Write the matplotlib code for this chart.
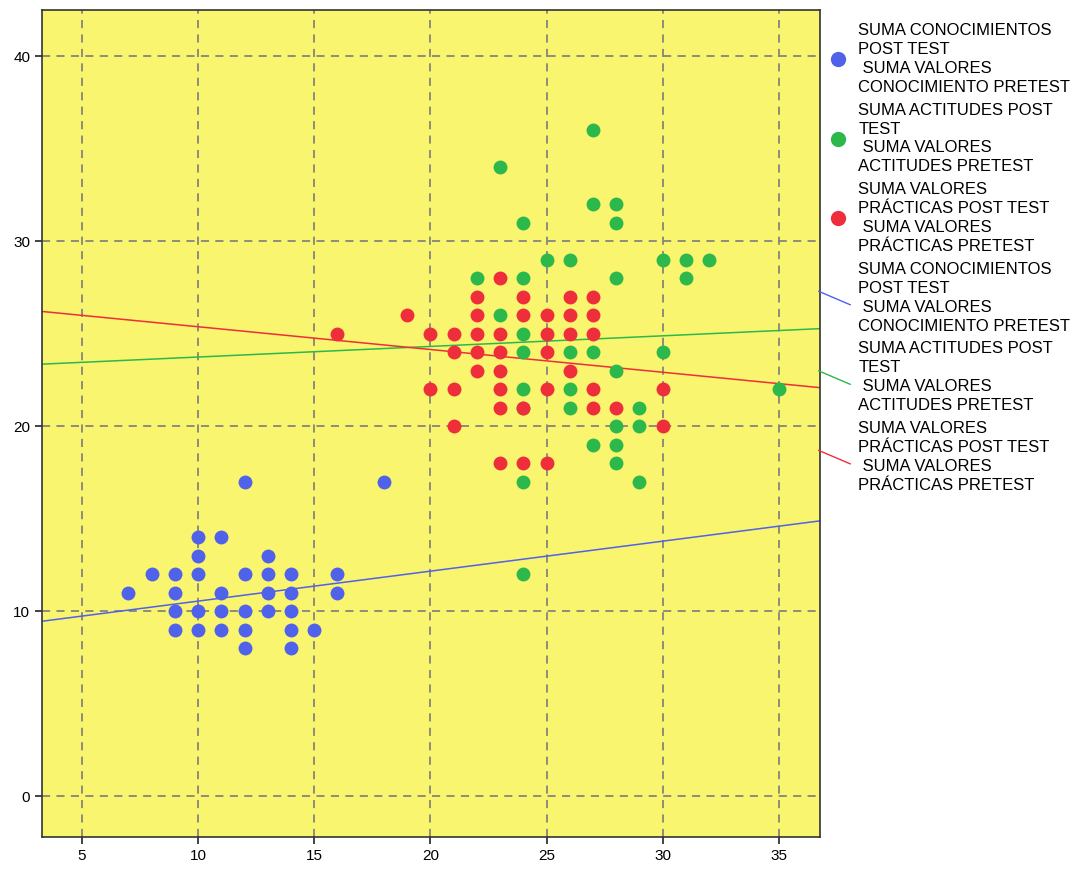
import matplotlib
matplotlib.use("Agg")
import matplotlib.pyplot as plt
from matplotlib.lines import Line2D
from matplotlib.legend_handler import HandlerBase

plt.rcParams['font.family'] = ['Liberation Sans', 'DejaVu Sans']

# conocimientos: post test (x) vs pretest (y)
conoc_x = [12, 18, 10, 11, 10, 13, 8, 9, 10, 12, 13, 14, 16, 7, 9, 11, 13, 14, 16,
           9, 10, 11, 12, 13, 14, 9, 10, 11, 12, 14, 15, 12, 14]
conoc_y = [17, 17, 14, 14, 13, 13, 12, 12, 12, 12, 12, 12, 12, 11, 11, 11, 11, 11, 11,
           10, 10, 10, 10, 10, 10, 9, 9, 9, 9, 9, 9, 8, 8]

# actitudes
actit_x = [23, 27, 24, 27, 28, 28, 25, 26, 30, 31, 32, 22, 24, 28, 31, 23, 24, 24, 26, 27,
           30, 28, 24, 26, 35, 24, 26, 29, 28, 29, 27, 28, 28, 24, 29, 24]
actit_y = [34, 36, 31, 32, 32, 31, 29, 29, 29, 29, 29, 28, 28, 28, 28, 26, 25, 24, 24, 24,
           24, 23, 22, 22, 22, 21, 21, 21, 20, 20, 19, 19, 18, 17, 17, 12]

# practicas
pract_x = [23, 22, 24, 26, 27, 19, 22, 24, 25, 26, 27, 16, 20, 21, 22, 23, 25, 26, 27,
           21, 22, 23, 25, 22, 23, 26, 20, 21, 23, 25, 27, 30, 23, 24, 27, 28, 21, 30,
           23, 24, 25]
pract_y = [28, 27, 27, 27, 27, 26, 26, 26, 26, 26, 26, 25, 25, 25, 25, 25, 25, 25, 25,
           24, 24, 24, 24, 23, 23, 23, 22, 22, 22, 22, 22, 22, 21, 21, 21, 21, 20, 20,
           18, 18, 18]

# fitted lines (intercept, slope)
fit_intercepts = [8.93, 23.17, 26.61]
fit_slopes = [0.162, 0.0573, -0.123]

lab_conoc = "SUMA CONOCIMIENTOS\nPOST TEST\n SUMA VALORES\nCONOCIMIENTO PRETEST"
lab_actit = "SUMA ACTITUDES POST\nTEST\n SUMA VALORES\nACTITUDES PRETEST"
lab_pract = "SUMA VALORES\nPRÁCTICAS POST TEST\n SUMA VALORES\nPRÁCTICAS PRETEST"

blue, green, red = "#5061EA", "#2DB84B", "#EE2E3B"


class DiagonalHandler(HandlerBase):
    def create_artists(self, legend, orig_handle, xdescent, ydescent,
                       width, height, fontsize, trans):
        ln = Line2D([-xdescent - 0.3 * width, width], [height * 1.05, -0.1 * height],
                    color=orig_handle.get_color(), lw=1, transform=trans)
        return [ln]


fig = plt.figure(figsize=(10.76, 8.71), dpi=100)
ax = fig.add_axes([42 / 1076, 34 / 871, 778 / 1076, 827 / 871])
ax.set_facecolor("#FAF56F")

xlim = (3.28, 36.77)
ax.set_xlim(*xlim)
ax.set_ylim(-2.2, 42.5)

grid_kw = dict(color="#85857A", lw=1.3, linestyle=(0, (4.5, 3.5)), zorder=1)
for gx in range(5, 40, 5):
    ax.axvline(gx, **grid_kw)
for gy in range(0, 50, 10):
    ax.axhline(gy, **grid_kw)

ax.scatter(conoc_x, conoc_y, s=100, color=blue, zorder=3, linewidths=0)
ax.scatter(actit_x, actit_y, s=100, color=green, zorder=3, linewidths=0)
ax.scatter(pract_x, pract_y, s=100, color=red, zorder=3, linewidths=0)

fit_lines = []
for b0, b1, c in zip(fit_intercepts, fit_slopes, [blue, green, red]):
    ln, = ax.plot(list(xlim), [b0 + b1 * xlim[0], b0 + b1 * xlim[1]],
                  color=c, lw=1.1, zorder=2)
    fit_lines.append(ln)

ax.set_xticks(range(5, 40, 5))
ax.set_yticks(range(0, 50, 10))
ax.tick_params(direction="out", length=5, width=1.2, labelsize=11, color="#222222")
for sp in ax.spines.values():
    sp.set_color("#333333")
    sp.set_linewidth(1.2)

dots = [Line2D([], [], marker="o", linestyle="", markersize=11, color=c,
               markeredgewidth=0) for c in (blue, green, red)]
handles = dots + fit_lines
labels = [lab_conoc, lab_actit, lab_pract, lab_conoc, lab_actit, lab_pract]
leg = fig.legend(handles, labels, loc="upper left",
                 bbox_to_anchor=(826 / 1076, 1 - 23 / 871),
                 frameon=False, fontsize=12, handlelength=1.45, handletextpad=0.5,
                 labelspacing=0.46, borderpad=0, borderaxespad=0,
                 handler_map={ln: DiagonalHandler() for ln in fit_lines})
for t in leg.get_texts():
    t.set_linespacing(1.33)

fig.savefig("out.png", dpi=100)
